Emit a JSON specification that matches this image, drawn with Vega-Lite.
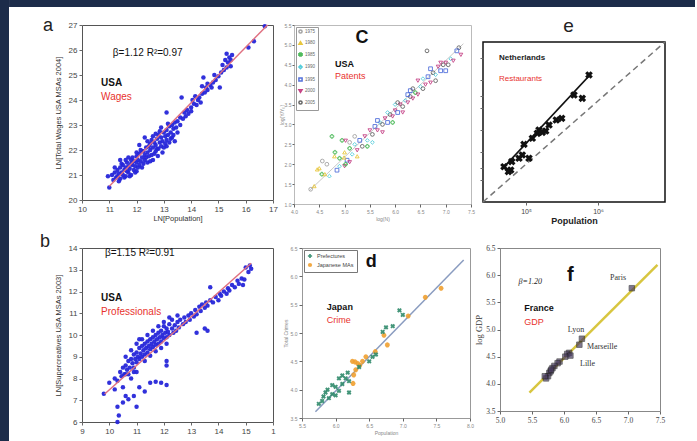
{
"$schema": "https://vega.github.io/schema/vega-lite/v6.json",
"background": "white",
"padding": 0,
"datasets": {
"strip": [{"x0": 0, "x1": 1, "y0": 0, "y1": 1}],
"tstrip": [{"x0": -0.119, "x1": 1, "y0": 0, "y1": 1}],
"a": [{"x":11.0,"y":20.5},{"x":10.95,"y":20.95},{"x":11.1,"y":21.0},{"x":11.15,"y":20.8},{"x":11.2,"y":21.1},{"x":11.25,"y":20.9},{"x":11.3,"y":21.2},{"x":11.3,"y":20.95},{"x":11.35,"y":21.05},{"x":11.4,"y":21.3},{"x":11.4,"y":20.85},{"x":11.45,"y":21.1},{"x":11.5,"y":21.0},{"x":11.5,"y":21.4},{"x":11.55,"y":21.2},{"x":11.6,"y":21.3},{"x":11.6,"y":20.95},{"x":11.65,"y":21.5},{"x":11.7,"y":21.1},{"x":11.7,"y":21.35},{"x":11.75,"y":21.25},{"x":11.8,"y":21.6},{"x":11.8,"y":21.0},{"x":11.85,"y":21.4},{"x":11.9,"y":21.2},{"x":11.9,"y":21.55},{"x":11.95,"y":21.35},{"x":12.0,"y":21.5},{"x":12.0,"y":21.75},{"x":12.0,"y":21.15},{"x":12.05,"y":21.6},{"x":12.1,"y":21.4},{"x":12.1,"y":21.85},{"x":12.15,"y":21.55},{"x":12.2,"y":21.3},{"x":12.2,"y":21.7},{"x":12.25,"y":21.95},{"x":12.3,"y":21.6},{"x":12.3,"y":21.8},{"x":12.35,"y":22.1},{"x":12.4,"y":21.5},{"x":12.4,"y":21.9},{"x":12.45,"y":21.75},{"x":12.5,"y":22.0},{"x":12.5,"y":22.25},{"x":12.55,"y":21.8},{"x":12.6,"y":22.1},{"x":12.6,"y":21.6},{"x":12.65,"y":22.3},{"x":12.7,"y":21.95},{"x":12.7,"y":22.2},{"x":12.75,"y":22.45},{"x":12.8,"y":22.05},{"x":12.8,"y":22.6},{"x":12.85,"y":22.3},{"x":12.9,"y":22.15},{"x":12.9,"y":22.5},{"x":12.95,"y":22.35},{"x":13.0,"y":22.7},{"x":13.0,"y":22.1},{"x":13.05,"y":22.55},{"x":13.1,"y":22.4},{"x":13.1,"y":22.8},{"x":13.15,"y":22.6},{"x":13.2,"y":22.3},{"x":13.2,"y":22.95},{"x":13.25,"y":22.7},{"x":13.3,"y":22.5},{"x":13.3,"y":23.0},{"x":13.35,"y":22.85},{"x":13.4,"y":23.1},{"x":13.4,"y":22.35},{"x":13.45,"y":22.9},{"x":13.5,"y":23.15},{"x":13.5,"y":22.7},{"x":13.6,"y":23.3},{"x":13.6,"y":23.0},{"x":13.7,"y":23.25},{"x":13.75,"y":23.5},{"x":13.8,"y":23.35},{"x":13.85,"y":23.6},{"x":13.65,"y":24.1},{"x":13.9,"y":23.45},{"x":14.0,"y":23.7},{"x":14.0,"y":23.55},{"x":14.1,"y":23.85},{"x":14.15,"y":24.15},{"x":14.2,"y":23.8},{"x":14.25,"y":24.0},{"x":14.3,"y":24.1},{"x":14.35,"y":23.9},{"x":14.4,"y":24.25},{"x":14.45,"y":24.9},{"x":14.5,"y":24.3},{"x":14.55,"y":24.5},{"x":14.6,"y":24.4},{"x":14.7,"y":24.6},{"x":14.75,"y":24.5},{"x":14.8,"y":24.7},{"x":14.9,"y":24.8},{"x":15.0,"y":24.95},{"x":15.05,"y":24.5},{"x":15.1,"y":25.1},{"x":15.15,"y":25.4},{"x":15.2,"y":25.2},{"x":15.25,"y":25.6},{"x":15.3,"y":25.3},{"x":15.35,"y":25.5},{"x":15.4,"y":25.7},{"x":15.45,"y":25.35},{"x":15.5,"y":25.8},{"x":15.3,"y":25.85},{"x":15.45,"y":25.6},{"x":16.1,"y":26.1},{"x":16.3,"y":26.35},{"x":16.7,"y":26.95},{"x":12.78,"y":21.76},{"x":11.2,"y":21.3},{"x":11.35,"y":20.75},{"x":11.45,"y":21.45},{"x":11.55,"y":20.9},{"x":11.65,"y":21.15},{"x":11.75,"y":20.95},{"x":11.85,"y":21.7},{"x":11.95,"y":21.1},{"x":12.05,"y":21.3},{"x":12.15,"y":22.0},{"x":12.25,"y":21.45},{"x":12.35,"y":21.7},{"x":12.45,"y":22.15},{"x":12.55,"y":22.4},{"x":12.65,"y":21.85},{"x":12.75,"y":22.05},{"x":12.85,"y":22.75},{"x":12.95,"y":21.9},{"x":13.05,"y":22.25},{"x":13.15,"y":23.05},{"x":13.25,"y":22.45},{"x":13.35,"y":22.6},{"x":12.1,"y":22.2},{"x":12.3,"y":22.5},{"x":12.5,"y":21.55},{"x":12.7,"y":22.65},{"x":11.6,"y":21.6},{"x":11.4,"y":21.6},{"x":12.2,"y":21.95},{"x":12.4,"y":22.35},{"x":12.9,"y":22.9},{"x":13.1,"y":22.15},{"x":12.0,"y":21.9},{"x":11.8,"y":21.45},{"x":11.7,"y":21.7},{"x":12.6,"y":22.55},{"x":13.1,"y":23.5},{"x":14.05,"y":24.0},{"x":14.4,"y":24.55},{"x":14.6,"y":24.65},{"x":14.85,"y":25.0}],
"aline": [{"x":11.0,"y":20.55},{"x":16.8,"y":27.0}],
"b": [{"x":9.8,"y":7.3},{"x":10.0,"y":7.8},{"x":10.2,"y":8.0},{"x":10.3,"y":7.9},{"x":10.4,"y":8.3},{"x":10.45,"y":8.1},{"x":10.5,"y":8.5},{"x":10.55,"y":8.2},{"x":10.6,"y":8.6},{"x":10.65,"y":8.4},{"x":10.7,"y":8.8},{"x":10.75,"y":8.5},{"x":10.8,"y":8.9},{"x":10.85,"y":8.7},{"x":10.9,"y":9.1},{"x":10.9,"y":8.5},{"x":10.95,"y":8.9},{"x":11.0,"y":9.2},{"x":11.0,"y":8.75},{"x":11.05,"y":9.0},{"x":11.1,"y":9.4},{"x":11.1,"y":8.9},{"x":11.15,"y":9.15},{"x":11.2,"y":9.5},{"x":11.2,"y":9.0},{"x":11.25,"y":9.3},{"x":11.3,"y":9.6},{"x":11.3,"y":9.1},{"x":11.35,"y":9.4},{"x":11.4,"y":9.7},{"x":11.4,"y":9.2},{"x":11.45,"y":9.5},{"x":11.5,"y":9.8},{"x":11.5,"y":9.35},{"x":11.55,"y":9.6},{"x":11.6,"y":9.9},{"x":11.6,"y":9.45},{"x":11.65,"y":9.7},{"x":11.7,"y":10.0},{"x":11.7,"y":9.55},{"x":11.75,"y":9.8},{"x":11.8,"y":10.1},{"x":11.8,"y":9.6},{"x":11.85,"y":9.9},{"x":11.9,"y":10.2},{"x":11.9,"y":9.7},{"x":11.95,"y":10.0},{"x":12.0,"y":10.4},{"x":12.0,"y":9.85},{"x":12.05,"y":10.1},{"x":12.1,"y":10.3},{"x":12.1,"y":9.9},{"x":12.15,"y":10.15},{"x":12.2,"y":10.5},{"x":12.2,"y":10.0},{"x":12.3,"y":10.3},{"x":12.35,"y":10.1},{"x":12.4,"y":10.45},{"x":12.45,"y":10.2},{"x":12.5,"y":10.6},{"x":12.55,"y":10.35},{"x":12.6,"y":10.7},{"x":12.7,"y":10.5},{"x":12.75,"y":10.8},{"x":12.8,"y":10.6},{"x":12.9,"y":10.9},{"x":12.95,"y":10.7},{"x":13.0,"y":11.0},{"x":13.1,"y":10.85},{"x":13.15,"y":11.15},{"x":13.2,"y":10.95},{"x":13.3,"y":11.3},{"x":13.35,"y":11.1},{"x":13.4,"y":11.4},{"x":13.5,"y":11.25},{"x":13.55,"y":11.5},{"x":13.6,"y":11.35},{"x":13.7,"y":12.2},{"x":13.7,"y":11.6},{"x":13.8,"y":11.5},{"x":13.9,"y":11.75},{"x":14.0,"y":11.6},{"x":14.05,"y":11.9},{"x":14.1,"y":11.8},{"x":14.2,"y":12.0},{"x":14.3,"y":11.9},{"x":14.35,"y":12.15},{"x":14.4,"y":12.05},{"x":14.5,"y":12.3},{"x":14.6,"y":12.2},{"x":14.7,"y":12.5},{"x":14.75,"y":12.35},{"x":14.85,"y":12.6},{"x":14.95,"y":12.55},{"x":15.0,"y":13.1},{"x":15.1,"y":12.9},{"x":15.15,"y":13.2},{"x":15.2,"y":13.05},{"x":14.9,"y":12.3},{"x":10.6,"y":9.0},{"x":10.8,"y":9.3},{"x":11.0,"y":9.6},{"x":11.2,"y":9.8},{"x":11.4,"y":10.0},{"x":11.6,"y":10.2},{"x":11.8,"y":10.4},{"x":12.0,"y":10.6},{"x":11.3,"y":8.8},{"x":11.5,"y":9.05},{"x":11.7,"y":9.25},{"x":11.9,"y":9.4},{"x":12.1,"y":9.6},{"x":10.7,"y":8.2},{"x":10.9,"y":8.3},{"x":12.3,"y":10.7},{"x":12.5,"y":10.9},{"x":12.2,"y":10.8},{"x":11.1,"y":9.8},{"x":10.3,"y":6.0},{"x":10.35,"y":6.3},{"x":10.3,"y":6.7},{"x":10.5,"y":6.9},{"x":10.6,"y":7.2},{"x":10.7,"y":7.05},{"x":10.9,"y":7.2},{"x":11.0,"y":6.7},{"x":11.1,"y":7.6},{"x":11.3,"y":7.4},{"x":11.5,"y":7.8},{"x":11.7,"y":7.85},{"x":11.9,"y":7.8},{"x":12.1,"y":7.7},{"x":10.2,"y":7.5},{"x":10.5,"y":7.6},{"x":10.8,"y":8.0},{"x":12.1,"y":8.6},{"x":12.1,"y":8.8},{"x":13.5,"y":10.3},{"x":13.6,"y":10.2},{"x":13.2,"y":10.1},{"x":11.0,"y":8.3},{"x":10.6,"y":8.2}],
"bline": [{"x":9.83,"y":7.29},{"x":15.2,"y":13.3}],
"c": [{"x":4.33,"y":1.37,"g":"1975"},{"x":4.4,"y":1.45,"g":"1980"},{"x":4.5,"y":1.9,"g":"1980"},{"x":4.55,"y":1.75,"g":"1985"},{"x":4.65,"y":2.0,"g":"1975"},{"x":4.7,"y":1.7,"g":"1990"},{"x":4.75,"y":2.7,"g":"1985"},{"x":4.8,"y":2.2,"g":"1980"},{"x":4.85,"y":1.85,"g":"1995"},{"x":4.9,"y":2.15,"g":"1985"},{"x":4.95,"y":2.6,"g":"1985"},{"x":5.0,"y":2.3,"g":"1980"},{"x":5.0,"y":1.95,"g":"2000"},{"x":5.05,"y":2.1,"g":"1995"},{"x":5.1,"y":2.4,"g":"1985"},{"x":5.1,"y":2.05,"g":"2000"},{"x":5.15,"y":2.25,"g":"1990"},{"x":5.2,"y":2.5,"g":"1990"},{"x":5.25,"y":2.35,"g":"2000"},{"x":5.3,"y":2.6,"g":"1995"},{"x":5.35,"y":2.45,"g":"2005"},{"x":5.4,"y":2.7,"g":"2000"},{"x":5.45,"y":2.6,"g":"1990"},{"x":5.5,"y":2.85,"g":"2000"},{"x":5.55,"y":2.75,"g":"2005"},{"x":5.6,"y":2.95,"g":"1995"},{"x":5.65,"y":2.85,"g":"2000"},{"x":5.7,"y":3.05,"g":"1990"},{"x":5.75,"y":3.0,"g":"2005"},{"x":5.8,"y":3.15,"g":"2000"},{"x":5.85,"y":3.05,"g":"1995"},{"x":5.9,"y":3.25,"g":"2005"},{"x":5.95,"y":3.2,"g":"2000"},{"x":6.0,"y":3.35,"g":"2000"},{"x":6.0,"y":3.5,"g":"1990"},{"x":6.05,"y":3.3,"g":"1995"},{"x":6.1,"y":3.5,"g":"2000"},{"x":6.15,"y":3.45,"g":"2005"},{"x":6.2,"y":3.6,"g":"1990"},{"x":6.25,"y":3.55,"g":"2000"},{"x":6.3,"y":3.7,"g":"2005"},{"x":6.3,"y":3.85,"g":"1995"},{"x":6.35,"y":3.65,"g":"2000"},{"x":6.4,"y":3.8,"g":"1985"},{"x":6.45,"y":3.75,"g":"2000"},{"x":6.5,"y":3.95,"g":"1990"},{"x":6.55,"y":3.9,"g":"2005"},{"x":6.6,"y":4.0,"g":"2000"},{"x":6.65,"y":4.2,"g":"1995"},{"x":6.7,"y":4.05,"g":"2000"},{"x":6.75,"y":4.3,"g":"2005"},{"x":6.8,"y":4.25,"g":"1990"},{"x":6.85,"y":4.45,"g":"2000"},{"x":6.9,"y":4.35,"g":"1995"},{"x":6.95,"y":4.5,"g":"2005"},{"x":7.0,"y":4.55,"g":"2000"},{"x":7.05,"y":4.5,"g":"2005"},{"x":7.1,"y":4.65,"g":"1990"},{"x":7.15,"y":4.6,"g":"2000"},{"x":7.26,"y":4.93,"g":"2005"},{"x":7.3,"y":4.75,"g":"2000"},{"x":7.22,"y":4.85,"g":"1995"},{"x":6.63,"y":4.85,"g":"2005"},{"x":4.99,"y":2.17,"g":"1980"},{"x":5.02,"y":2.0,"g":"1985"},{"x":4.46,"y":1.87,"g":"1980"},{"x":4.56,"y":2.08,"g":"1975"},{"x":5.02,"y":2.59,"g":"2000"},{"x":4.61,"y":1.75,"g":"1980"},{"x":4.81,"y":2.3,"g":"1985"},{"x":5.2,"y":2.7,"g":"1975"},{"x":5.25,"y":2.2,"g":"1980"},{"x":5.45,"y":2.45,"g":"1985"},{"x":5.55,"y":2.55,"g":"1990"},{"x":5.65,"y":3.1,"g":"1995"},{"x":5.75,"y":2.8,"g":"2000"},{"x":5.85,"y":3.3,"g":"1990"},{"x":5.95,"y":3.05,"g":"1985"},{"x":6.05,"y":3.55,"g":"2005"},{"x":6.15,"y":3.3,"g":"2000"},{"x":6.25,"y":3.75,"g":"1995"},{"x":6.35,"y":3.9,"g":"2005"},{"x":6.45,"y":4.1,"g":"2000"},{"x":6.55,"y":4.15,"g":"1990"},{"x":6.7,"y":4.4,"g":"1995"},{"x":6.8,"y":4.1,"g":"2005"},{"x":6.9,"y":4.55,"g":"2000"},{"x":7.0,"y":4.35,"g":"1995"},{"x":5.1,"y":2.55,"g":"1975"},{"x":4.9,"y":1.95,"g":"1990"}],
"cline": [{"x":4.3,"y":1.33},{"x":7.35,"y":5.03}],
"d": [{"x":7.335,"y":5.63,"k":"Japanese MAs"},{"x":7.57,"y":5.79,"k":"Japanese MAs"},{"x":7.08,"y":5.3,"k":"Japanese MAs"},{"x":6.72,"y":4.96,"k":"Japanese MAs"},{"x":6.77,"y":4.79,"k":"Japanese MAs"},{"x":6.33,"y":4.46,"k":"Japanese MAs"},{"x":6.29,"y":4.49,"k":"Japanese MAs"},{"x":6.36,"y":4.43,"k":"Japanese MAs"},{"x":6.27,"y":4.26,"k":"Japanese MAs"},{"x":6.26,"y":4.11,"k":"Japanese MAs"},{"x":6.59,"y":4.67,"k":"Japanese MAs"},{"x":6.45,"y":4.58,"k":"Japanese MAs"},{"x":6.25,"y":4.5,"k":"Japanese MAs"},{"x":6.4,"y":4.5,"k":"Japanese MAs"},{"x":6.3,"y":4.35,"k":"Japanese MAs"},{"x":5.75,"y":3.75,"k":"Prefectures"},{"x":5.8,"y":3.8,"k":"Prefectures"},{"x":5.85,"y":3.95,"k":"Prefectures"},{"x":5.9,"y":3.85,"k":"Prefectures"},{"x":5.95,"y":3.92,"k":"Prefectures"},{"x":6.0,"y":4.05,"k":"Prefectures"},{"x":6.05,"y":3.98,"k":"Prefectures"},{"x":6.1,"y":4.1,"k":"Prefectures"},{"x":6.15,"y":4.2,"k":"Prefectures"},{"x":6.2,"y":4.15,"k":"Prefectures"},{"x":6.0,"y":3.9,"k":"Prefectures"},{"x":5.95,"y":4.08,"k":"Prefectures"},{"x":6.1,"y":4.25,"k":"Prefectures"},{"x":6.18,"y":4.3,"k":"Prefectures"},{"x":6.35,"y":4.4,"k":"Prefectures"},{"x":6.5,"y":4.5,"k":"Prefectures"},{"x":6.6,"y":4.62,"k":"Prefectures"},{"x":6.7,"y":5.02,"k":"Prefectures"},{"x":6.75,"y":5.1,"k":"Prefectures"},{"x":6.85,"y":5.12,"k":"Prefectures"},{"x":6.95,"y":5.4,"k":"Prefectures"},{"x":7.0,"y":5.32,"k":"Prefectures"},{"x":6.55,"y":4.58,"k":"Prefectures"},{"x":6.05,"y":4.2,"k":"Prefectures"},{"x":5.88,"y":4.0,"k":"Prefectures"},{"x":6.2,"y":3.95,"k":"Prefectures"},{"x":5.82,"y":3.88,"k":"Prefectures"}],
"dline": [{"x":5.7,"y":3.61},{"x":7.906,"y":6.29}],
"e": [{"x":49500,"y":30.9},{"x":61400,"y":27.8},{"x":56900,"y":26.4},{"x":63400,"y":36.3},{"x":80000,"y":40.5},{"x":88900,"y":45.0},{"x":93800,"y":63.2},{"x":110000,"y":40.5},{"x":122500,"y":76.7},{"x":143600,"y":89.9},{"x":151700,"y":100},{"x":168700,"y":92.9},{"x":187900,"y":96.8},{"x":208900,"y":117.2},{"x":263600,"y":137.7},{"x":313300,"y":145.2},{"x":464500,"y":306.2},{"x":605300,"y":275.4},{"x":749900,"y":580.8}],
"eline": [{"x":47900,"y":29.5},{"x":750000,"y":562}],
"ediag": [{"x":25300,"y":10},{"x":8530000,"y":1667}],
"f": [{"x":7.06,"y":5.76},{"x":6.28,"y":4.83},{"x":6.24,"y":4.72},{"x":6.08,"y":4.57},{"x":6.05,"y":4.55},{"x":6.1,"y":4.52},{"x":6.02,"y":4.5},{"x":5.93,"y":4.41},{"x":5.9,"y":4.38},{"x":5.85,"y":4.33},{"x":5.82,"y":4.29},{"x":5.79,"y":4.23},{"x":5.77,"y":4.2},{"x":5.75,"y":4.14},{"x":5.72,"y":4.1},{"x":5.7,"y":4.14},{"x":5.8,"y":4.26}],
"fline": [{"x":5.46,"y":3.84},{"x":7.46,"y":6.19}],
"flab": [{"t":"Paris","x":6.72,"y":5.94},{"t":"Lyon","x":6.06,"y":5.0},{"t":"Marseille","x":6.36,"y":4.68},{"t":"Lille","x":6.25,"y":4.37}]
},
"spacing": 0,
"resolve": {"scale": {"color": "independent", "shape": "independent"}, "legend": {"color": "independent", "shape": "independent"}},
"hconcat": [
{
"width": 9, "height": 441,
"view": {"stroke": null},
"data": {"name": "strip"},
"mark": {"type": "rect", "color": "#1c2c4a"},
"encoding": {
"x": {"field": "x0", "type": "quantitative", "scale": {"domain": [0, 1], "nice": false, "zero": false}, "axis": null},
"x2": {"field": "x1"},
"y": {"field": "y0", "type": "quantitative", "scale": {"domain": [0, 1], "nice": false, "zero": false}, "axis": null},
"y2": {"field": "y1"}
}
},
{
"spacing": 9,
"resolve": {"scale": {"color": "independent", "shape": "independent"}, "legend": {"color": "independent", "shape": "independent"}},
"vconcat": [
{
"width": 613, "height": 7,
"view": {"stroke": null},
"data": {"name": "tstrip"},
"mark": {"type": "rect", "color": "#1c2c4a"},
"encoding": {
"x": {"field": "x0", "type": "quantitative", "scale": {"domain": [0, 1], "nice": false, "zero": false}, "axis": null},
"x2": {"field": "x1"},
"y": {"field": "y0", "type": "quantitative", "scale": {"domain": [0, 1], "nice": false, "zero": false}, "axis": null},
"y2": {"field": "y1"}
}
},
{
"spacing": 6,
"resolve": {"scale": {"color": "independent", "shape": "independent"}, "legend": {"color": "independent", "shape": "independent"}},
"vconcat": [
{
"spacing": 0,
"resolve": {"scale": {"color": "independent", "shape": "independent"}, "legend": {"color": "independent", "shape": "independent"}},
"hconcat": [
{
"width": 191, "height": 175,
"view": {"stroke": "#555"},
"encoding": {
"x": {"field": "x", "type": "quantitative", "scale": {"domain": [10, 17], "nice": false, "zero": false}, "axis": {"values": [10,11,12,13,14,15,16,17], "tickCount": 30, "format": "d", "title": "LN[Population]", "titlePadding": 1}},
"y": {"field": "y", "type": "quantitative", "scale": {"domain": [20, 27], "nice": false, "zero": false}, "axis": {"values": [20,21,22,23,24,25,26,27], "tickCount": 30, "format": "d", "title": "LN[Total Wages USA MSAs 2004]", "titlePadding": 6}}
},
"layer": [
{"data": {"name": "a"}, "mark": {"type": "circle", "size": 20, "color": "#2626d9", "opacity": 0.95}},
{"data": {"name": "aline"}, "mark": {"type": "line", "color": "#e07080", "strokeWidth": 1.5}},
{"data": {"values": [{"x": 11.13, "y": 25.88}]}, "mark": {"type": "text", "text": "β=1.12   R²=0.97", "align": "left", "fontSize": 10, "color": "#111"}},
{"data": {"values": [{"x": 10.7, "y": 24.68}]}, "mark": {"type": "text", "text": "USA", "align": "left", "fontSize": 10, "fontWeight": "bold", "color": "#111"}},
{"data": {"values": [{"x": 10.7, "y": 24.12}]}, "mark": {"type": "text", "text": "Wages", "align": "left", "fontSize": 10, "color": "#e8322e"}},
{"data": {"values": [{"x": 8.75, "y": 26.96}]}, "mark": {"type": "text", "text": "a", "align": "center", "fontSize": 18, "color": "#222"}}
]
},
{
"spacing": 3,
"resolve": {"scale": {"color": "independent", "shape": "independent"}, "legend": {"color": "independent", "shape": "independent"}},
"hconcat": [
{
"width": 177, "height": 179,
"view": {"stroke": "#bbb"},
"encoding": {
"x": {"field": "x", "type": "quantitative", "scale": {"domain": [4, 7.5], "nice": false, "zero": false}, "axis": {"values": [4,4.5,5,5.5,6,6.5,7,7.5], "tickCount": 30, "format": ".1f", "title": "log(N)", "labelFontSize": 5, "titleFontSize": 5, "labelColor": "#888", "titleColor": "#888", "titlePadding": 2}},
"y": {"field": "y", "type": "quantitative", "scale": {"domain": [1, 5.5], "nice": false, "zero": false}, "axis": {"values": [1,1.5,2,2.5,3,3.5,4,4.5,5,5.5], "tickCount": 30, "format": ".1f", "title": "log(Y/Y₀)", "labelFontSize": 5, "titleFontSize": 5, "labelColor": "#888", "titleColor": "#888", "titlePadding": 0, "labelPadding": 1, "tickSize": 2}}
},
"layer": [
{"data": {"name": "cline"}, "mark": {"type": "line", "color": "#c8c8c8", "strokeWidth": 1}},
{"data": {"name": "c"}, "mark": {"type": "point", "filled": false, "size": 14, "strokeWidth": 0.9, "opacity": 0.9},
"encoding": {
"color": {"field": "g", "type": "nominal", "scale": {"domain": ["1975","1980","1985","1990","1995","2000","2005"], "range": ["#9a9a9a","#e6c229","#3cb44b","#42c8d8","#4363d8","#c0307a","#555555"]}, "legend": {"orient": "top-left", "title": null, "labelFontSize": 4.5, "labelColor": "#666", "symbolSize": 10, "rowPadding": 1.5, "padding": 2, "strokeColor": "#999", "fillColor": "#fff", "offset": 2, "labelOffset": 2}},
"shape": {"field": "g", "type": "nominal", "scale": {"domain": ["1975","1980","1985","1990","1995","2000","2005"], "range": ["circle","triangle-up","cross","diamond","square","triangle-down","circle"]}, "legend": null}
}},
{"data": {"values": [{"x": 5.345, "y": 5.17}]}, "mark": {"type": "text", "text": "C", "align": "center", "fontSize": 18, "fontWeight": "bold", "color": "#111"}},
{"data": {"values": [{"x": 4.81, "y": 4.52}]}, "mark": {"type": "text", "text": "USA", "align": "left", "fontSize": 9, "fontWeight": "bold", "color": "#111"}},
{"data": {"values": [{"x": 4.81, "y": 4.22}]}, "mark": {"type": "text", "text": "Patents", "align": "left", "fontSize": 9, "color": "#e8322e"}}
]
},
{
"spacing": 0,
"vconcat": [
{
"width": 182, "height": 13,
"view": {"stroke": null},
"data": {"values": [{"x": 0.47, "y": 0.885}]},
"mark": {"type": "text", "text": "e", "fontSize": 19, "color": "#222"},
"encoding": {
"x": {"field": "x", "type": "quantitative", "scale": {"domain": [0, 1]}, "axis": null},
"y": {"field": "y", "type": "quantitative", "scale": {"domain": [0, 1]}, "axis": null}
}
},
{
"width": 182, "height": 160,
"view": {"stroke": "#111", "strokeWidth": 1.5},
"encoding": {
"x": {"field": "x", "type": "quantitative", "scale": {"type": "log", "domain": [25300, 8530000], "nice": false}, "axis": {"values": [100000, 1000000], "tickCount": 30, "labelExpr": "datum.value == 100000 ? '10⁵' : '10⁶'", "title": "Population", "titleFontWeight": "bold", "titleFontSize": 9, "titleColor": "#222", "labelFontSize": 7, "titlePadding": 2}},
"y": {"field": "y", "type": "quantitative", "scale": {"type": "log", "domain": [10, 1667], "nice": false}, "axis": {"values": [20, 30, 50, 100, 200, 300, 500, 1000], "tickCount": 30, "labels": false, "title": null}}
},
"layer": [
{"data": {"name": "ediag"}, "mark": {"type": "line", "color": "#777", "strokeDash": [6, 4], "strokeWidth": 1.5}},
{"data": {"name": "eline"}, "mark": {"type": "line", "color": "#111", "strokeWidth": 1.8}},
{"data": {"name": "e"}, "mark": {"type": "point", "shape": "cross", "angle": 45, "filled": true, "color": "#111", "size": 60, "opacity": 1}},
{"data": {"values": [{"x": 42170, "y": 1000}]}, "mark": {"type": "text", "text": "Netherlands", "align": "left", "fontSize": 8, "fontWeight": "bold", "color": "#222"}},
{"data": {"values": [{"x": 42170, "y": 511}]}, "mark": {"type": "text", "text": "Restaurants", "align": "left", "fontSize": 8, "color": "#e8322e"}}
]
}
]
}
]
}
]
},
{
"spacing": 6,
"resolve": {"scale": {"color": "independent", "shape": "independent"}, "legend": {"color": "independent", "shape": "independent"}},
"hconcat": [
{
"width": 191, "height": 174,
"view": {"stroke": "#555"},
"encoding": {
"x": {"field": "x", "type": "quantitative", "scale": {"domain": [9, 16], "nice": false, "zero": false}, "axis": {"values": [9,10,11,12,13,14,15,16], "tickCount": 30, "format": "d", "labelExpr": "datum.value == 16 ? '1' : datum.label", "title": null}},
"y": {"field": "y", "type": "quantitative", "scale": {"domain": [6, 14], "nice": false, "zero": false}, "axis": {"values": [6,7,8,9,10,11,12,13,14], "tickCount": 30, "format": "d", "title": "LN[Supercreatives USA MSAs 2003]", "titlePadding": 6}}
},
"layer": [
{"data": {"name": "b"}, "mark": {"type": "circle", "size": 20, "color": "#2626d9", "opacity": 0.95}},
{"data": {"name": "bline"}, "mark": {"type": "line", "color": "#e07080", "strokeWidth": 1.5}},
{"data": {"values": [{"x": 9.84, "y": 13.75}]}, "mark": {"type": "text", "text": "β=1.15   R²=0.91", "align": "left", "fontSize": 10, "color": "#111"}},
{"data": {"values": [{"x": 9.7, "y": 11.7}]}, "mark": {"type": "text", "text": "USA", "align": "left", "fontSize": 10, "fontWeight": "bold", "color": "#111"}},
{"data": {"values": [{"x": 9.7, "y": 11.06}]}, "mark": {"type": "text", "text": "Professionals", "align": "left", "fontSize": 10, "color": "#e8322e"}},
{"data": {"values": [{"x": 7.64, "y": 14.28}]}, "mark": {"type": "text", "text": "b", "align": "center", "fontSize": 18, "color": "#222"}}
]
},
{
"spacing": 0,
"resolve": {"scale": {"color": "independent", "shape": "independent"}, "legend": {"color": "independent", "shape": "independent"}},
"hconcat": [
{
"width": 168, "height": 170,
"view": {"stroke": "#999"},
"encoding": {
"x": {"field": "x", "type": "quantitative", "scale": {"domain": [5.5, 8], "nice": false, "zero": false}, "axis": {"values": [5.5,6,6.5,7,7.5,8], "tickCount": 30, "format": ".1f", "title": "Population", "labelFontSize": 5, "titleFontSize": 5, "labelColor": "#888", "titleColor": "#888", "titlePadding": 2}},
"y": {"field": "y", "type": "quantitative", "scale": {"domain": [3.5, 6.5], "nice": false, "zero": false}, "axis": {"values": [3.5,4,4.5,5,5.5,6,6.5], "tickCount": 30, "format": ".1f", "title": "Total Crimes", "labelFontSize": 5, "titleFontSize": 5, "labelColor": "#888", "titleColor": "#888", "titlePadding": 2}}
},
"layer": [
{"data": {"name": "dline"}, "mark": {"type": "line", "color": "#8a9cc0", "strokeWidth": 1.5}},
{"data": {"name": "d"}, "mark": {"type": "point", "filled": true, "size": 24, "angle": 45, "opacity": 0.9},
"encoding": {
"color": {"field": "k", "type": "nominal", "scale": {"domain": ["Prefectures", "Japanese MAs"], "range": ["#2f8a6a", "#f0a030"]}, "legend": {"orient": "top-left", "title": null, "labelFontSize": 5.5, "labelColor": "#444", "symbolSize": 18, "rowPadding": 2, "padding": 3, "strokeColor": "#777", "fillColor": "#fff", "offset": 2}},
"shape": {"field": "k", "type": "nominal", "scale": {"domain": ["Prefectures", "Japanese MAs"], "range": ["cross", "circle"]}, "legend": {"orient": "top-left", "title": null, "labelFontSize": 5.5, "labelColor": "#444", "symbolSize": 18, "rowPadding": 2, "padding": 3, "strokeColor": "#777", "fillColor": "#fff", "offset": 2}}
}},
{"data": {"values": [{"x": 6.53, "y": 6.25}]}, "mark": {"type": "text", "text": "d", "align": "center", "fontSize": 18, "fontWeight": "bold", "color": "#111"}},
{"data": {"values": [{"x": 5.87, "y": 5.46}]}, "mark": {"type": "text", "text": "Japan", "align": "left", "fontSize": 9, "fontWeight": "bold", "color": "#111"}},
{"data": {"values": [{"x": 5.87, "y": 5.23}]}, "mark": {"type": "text", "text": "Crime", "align": "left", "fontSize": 9, "color": "#e8322e"}}
]
},
{
"width": 160, "height": 163,
"view": {"stroke": "#888"},
"encoding": {
"x": {"field": "x", "type": "quantitative", "scale": {"domain": [5, 7.5], "nice": false, "zero": false}, "axis": {"values": [5,5.5,6,6.5,7,7.5], "tickCount": 30, "format": ".1f", "title": null, "labelFont": "Liberation Serif", "labelFontSize": 7.5}},
"y": {"field": "y", "type": "quantitative", "scale": {"domain": [3.5, 6.5], "nice": false, "zero": false}, "axis": {"values": [3.5,4,4.5,5,5.5,6,6.5], "tickCount": 30, "format": ".1f", "title": "log GDP", "titleFont": "Liberation Serif", "titleFontSize": 8.5, "labelFont": "Liberation Serif", "labelFontSize": 7.5, "titlePadding": 2}}
},
"layer": [
{"data": {"name": "fline"}, "mark": {"type": "line", "color": "#d8c640", "strokeWidth": 2.5}},
{"data": {"name": "f"}, "mark": {"type": "point", "shape": "square", "filled": true, "color": "#4a3d63", "size": 30, "stroke": "#222", "strokeWidth": 0.8}},
{"data": {"name": "flab"}, "mark": {"type": "text", "font": "Liberation Serif", "fontSize": 8, "color": "#333", "align": "left"}, "encoding": {"text": {"field": "t"}}},
{"data": {"values": [{"x": 6.1, "y": 6.0}]}, "mark": {"type": "text", "text": "f", "align": "center", "fontSize": 20, "fontWeight": "bold", "color": "#111"}},
{"data": {"values": [{"x": 5.29, "y": 5.88}]}, "mark": {"type": "text", "text": "β=1.20", "align": "left", "fontSize": 8, "font": "Liberation Serif", "fontStyle": "italic", "color": "#222"}},
{"data": {"values": [{"x": 5.38, "y": 5.39}]}, "mark": {"type": "text", "text": "France", "align": "left", "fontSize": 9, "fontWeight": "bold", "color": "#111"}},
{"data": {"values": [{"x": 5.38, "y": 5.14}]}, "mark": {"type": "text", "text": "GDP", "align": "left", "fontSize": 9, "color": "#e8322e"}}
]
}
]
}
]
}
]
}
]
}
],
"config": {
"font": "Liberation Sans",
"view": {"stroke": "#555"},
"axis": {"grid": false, "domain": false, "tickSize": 3, "tickColor": "#666", "labelPadding": 2, "labelFontSize": 8, "labelColor": "#444", "labelFlush": false, "labelOverlap": false, "titleFontSize": 7.5, "titleFontWeight": "normal", "titleColor": "#333"}
}
}
